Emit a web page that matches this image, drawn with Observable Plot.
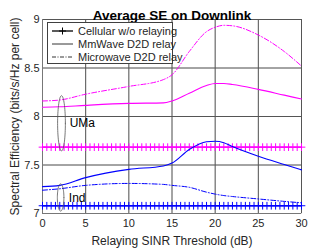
<!DOCTYPE html>
<html><head><meta charset="utf-8">
<script src="https://cdn.jsdelivr.net/npm/d3@7"></script>
<script src="https://cdn.jsdelivr.net/npm/@observablehq/plot@0.6"></script>
<style>
body{margin:0;background:#fff;font-family:"Liberation Sans",Arial,sans-serif;}
#wrap{position:relative;width:332px;height:249px;}
#legend{position:absolute;left:47px;top:22px;width:126px;height:42px;border:1px solid #404040;background:#fff;font-size:11px;color:#262626;box-sizing:border-box;padding-top:1px;white-space:nowrap;overflow:visible;}
#legend .row{display:flex;align-items:center;height:13.3px;white-space:nowrap;}
#legend svg{margin-left:3px;margin-right:4px;flex:none;}
</style></head>
<body><div id="wrap"><div id="chart"></div>
<div id="legend">
<div class="row"><svg width="23" height="8"><line x1="1" y1="4" x2="22" y2="4" stroke="#000" stroke-width="1.3"/><path d="M11.5 0.5V7.5M8 4H15" stroke="#000" stroke-width="1"/></svg><span>Cellular w/o relaying</span></div>
<div class="row"><svg width="23" height="8"><line x1="1" y1="4" x2="22" y2="4" stroke="#000" stroke-width="0.8"/></svg><span>MmWave D2D relay</span></div>
<div class="row"><svg width="23" height="8"><line x1="1" y1="4" x2="22" y2="4" stroke="#000" stroke-width="0.8" stroke-dasharray="4,1.5,1,1.5"/></svg><span>Microwave D2D relay</span></div>
</div></div>
<script>
// data
const thresholds = [0, 2, 5, 10, 14, 15, 17, 19, 20, 21, 22, 25, 28, 30];
const umaMicrowave = [8.16, 8.17, 8.23, 8.31, 8.38, 8.43, 8.67, 8.875, 8.92, 8.94, 8.935, 8.84, 8.67, 8.52];
const umaMmWave   = [8.095, 8.10, 8.115, 8.135, 8.14, 8.16, 8.24, 8.32, 8.34, 8.34, 8.33, 8.28, 8.22, 8.18];
const indMmWave   = [7.277, 7.29, 7.37, 7.455, 7.49, 7.52, 7.66, 7.74, 7.745, 7.73, 7.69, 7.59, 7.505, 7.45];
const indMicrowave= [7.24, 7.255, 7.29, 7.31, 7.30, 7.29, 7.27, 7.22, 7.20, 7.185, 7.175, 7.15, 7.125, 7.11];
const umaCellular = 7.684;
const indCellular = 7.08;
const markerX = d3.range(0, 30.01, 0.5);
const xTicks = [0, 5, 10, 15, 20, 25, 30];
const yTicks = [7, 7.5, 8, 8.5, 9];
const yTickLabels = ["7", "7.5", "8", "8.5", "9"];
// annotation ellipses: [centerX, yTop, yBottom, halfWidthX, label]
const ellipses = [
  {cx: 2.2, y0: 8.215, y1: 7.645, rx: 0.45, label: "UMa", ly: 7.93},
  {cx: 2.1, y0: 7.305, y1: 7.025, rx: 0.38, label: "Ind", ly: 7.16}
];

const mag = "#ff00ff", blue = "#0000ff";
const series = (xs, ys) => xs.map((x, i) => ({x, y: ys[i]}));
const ellPts = e => d3.range(0, 361, 5).map(a => ({
  x: e.cx + e.rx * Math.cos(a * Math.PI / 180),
  y: (e.y0 + e.y1) / 2 + (e.y0 - e.y1) / 2 * Math.sin(a * Math.PI / 180)
}));

const chart = Plot.plot({
  width: 332, height: 249,
  marginLeft: 42, marginRight: 31, marginTop: 19, marginBottom: 36,
  style: {fontFamily: "'Liberation Sans', Arial, sans-serif", fontSize: "11px", color: "#262626", background: "#fff"},
  x: {domain: [0, 30]},
  y: {domain: [7, 9]},
  marks: [
    Plot.gridX(xTicks, {stroke: "#e6e6e6", strokeOpacity: 1}),
    Plot.gridY(yTicks, {stroke: "#e6e6e6", strokeOpacity: 1}),
    Plot.frame({stroke: "#d9d9d9"}),
    Plot.axisX(xTicks, {tickSize: 0, tickPadding: 6, fontSize: 11, label: null}),
    Plot.axisX({ticks: [], tickSize: 0, label: "Relaying SINR Threshold (dB)", labelAnchor: "center", labelArrow: "none", labelOffset: 31, fontSize: 12}),
    Plot.axisY(yTicks, {tickSize: 0, tickPadding: 3, tickFormat: d => yTickLabels[yTicks.indexOf(d)], fontSize: 11, label: null}),
    Plot.axisY({ticks: [], tickSize: 0, label: "Spectral Efficiency (bits/s/Hz per cell)", labelAnchor: "center", labelArrow: "none", labelOffset: 32, fontSize: 12}),
    Plot.tickX(xTicks, {x: d => d, y1: 7, y2: 7.025, stroke: "#555"}),
    Plot.tickY(yTicks, {y: d => d, x1: 0, x2: 0.25, stroke: "#555"}),
    Plot.ruleX([0], {stroke: "#777"}),
    Plot.ruleY([7], {stroke: "#777"}),
    // UMa
    Plot.line(series(thresholds, umaMicrowave), {x: "x", y: "y", stroke: mag, strokeWidth: 1, strokeDasharray: "5,2,1,2", curve: "monotone-x"}),
    Plot.line(series(thresholds, umaMmWave), {x: "x", y: "y", stroke: mag, strokeWidth: 1.1, curve: "monotone-x"}),
    Plot.ruleY([umaCellular], {stroke: mag, strokeWidth: 1.3}),
    Plot.dot(markerX, {x: d => d, y: () => umaCellular, symbol: "plus", r: 2.6, stroke: mag, strokeWidth: 1}),
    // Ind
    Plot.line(series(thresholds, indMicrowave), {x: "x", y: "y", stroke: blue, strokeWidth: 1, strokeDasharray: "5,2,1,2", curve: "monotone-x"}),
    Plot.line(series(thresholds, indMmWave), {x: "x", y: "y", stroke: blue, strokeWidth: 1.1, curve: "monotone-x"}),
    Plot.ruleY([indCellular], {stroke: blue, strokeWidth: 1.3}),
    Plot.dot(markerX, {x: d => d, y: () => indCellular, symbol: "plus", r: 2.6, stroke: blue, strokeWidth: 1}),
    // annotations
    ...ellipses.map(e => Plot.line(ellPts(e), {x: "x", y: "y", stroke: "#555", strokeWidth: 0.8})),
    Plot.text(ellipses, {x: d => d.cx + 0.95, y: "ly", text: "label", textAnchor: "start", fontSize: 12, fill: "#000"}),
    // title
    Plot.text(["Average SE on Downlink"], {frameAnchor: "top", dy: -9, fontSize: 13.5, fontWeight: "bold", fill: "#000"})
  ]
});
document.getElementById("chart").append(chart);
</script></body></html>
